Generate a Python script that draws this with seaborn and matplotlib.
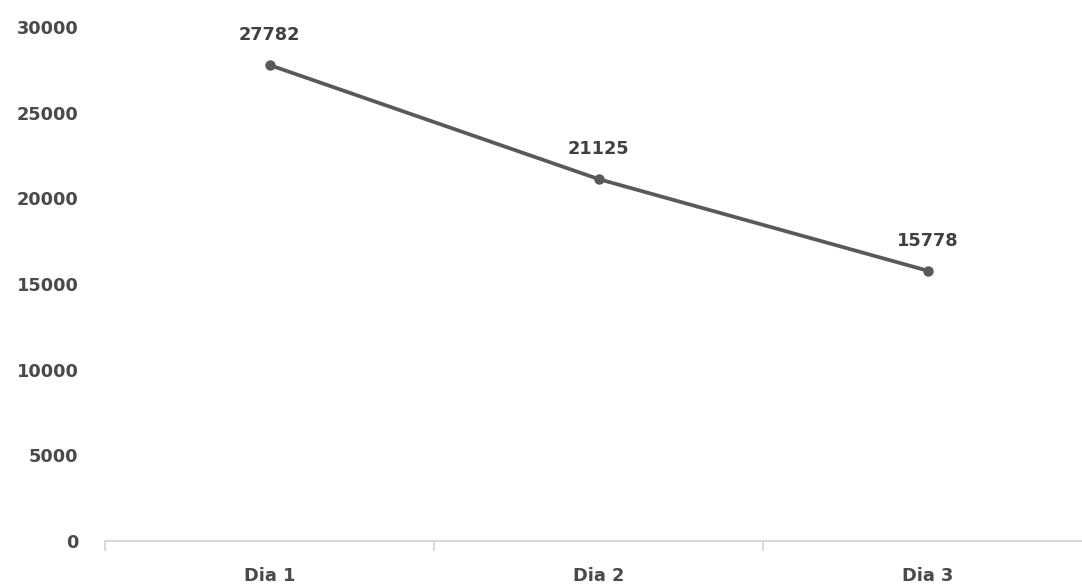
import matplotlib
matplotlib.use("Agg")
import matplotlib.pyplot as plt
import seaborn as sns
import pandas as pd
from matplotlib.ticker import FixedLocator

categories = ["Dia 1", "Dia 2", "Dia 3"]
values = [27782, 21125, 15778]
yticks = [0, 5000, 10000, 15000, 20000, 25000, 30000]

sns.set_theme(style="white")
plt.rcParams['font.family'] = ['DejaVu Sans']

df = pd.DataFrame({"dia": categories, "valor": values})

fig = plt.figure(figsize=(10.82, 5.87), dpi=100)
ax = fig.add_axes([105/1082, 46/587, 1 - 105/1082, (541-27)/587])

line_color = "#595959"
sns.lineplot(data=df, x="dia", y="valor", ax=ax, color=line_color,
             linewidth=2.7, marker="o", markersize=7.5, markeredgewidth=0,
             sort=False)

ax.set_ylim(0, 30000)
ax.set_xlim(-0.5, 2.5 - 10/329)
ax.set_yticks(yticks)
ax.set_yticklabels([str(t) for t in yticks])
ax.set_xticks(range(len(categories)))
ax.set_xticklabels(categories)
ax.xaxis.set_minor_locator(FixedLocator([-0.5, 0.5, 1.5, 2.5]))

for s in ["top", "right", "left"]:
    ax.spines[s].set_visible(False)
ax.spines["bottom"].set_color("#d9d9d9")
ax.spines["bottom"].set_linewidth(1.5)

tick_color = "#4a4a4a"
ax.tick_params(axis="y", length=0, pad=19, labelsize=12.8, labelcolor=tick_color)
ax.tick_params(axis="x", which="major", length=0, pad=19, labelsize=12.8, labelcolor=tick_color)
ax.tick_params(axis="x", which="minor", length=7, width=1.5, color="#d9d9d9", bottom=True)
for lab in ax.get_yticklabels() + ax.get_xticklabels():
    lab.set_fontweight("bold")

ax.set_xlabel("")
ax.set_ylabel("")
ax.grid(False)

for i, v in enumerate(values):
    ax.annotate(str(v), (i, v), xytext=(0, 30), textcoords="offset pixels",
                ha="center", va="center", fontsize=12.8, fontweight="bold",
                color="#404040")

fig.savefig("out.png", dpi=100)
